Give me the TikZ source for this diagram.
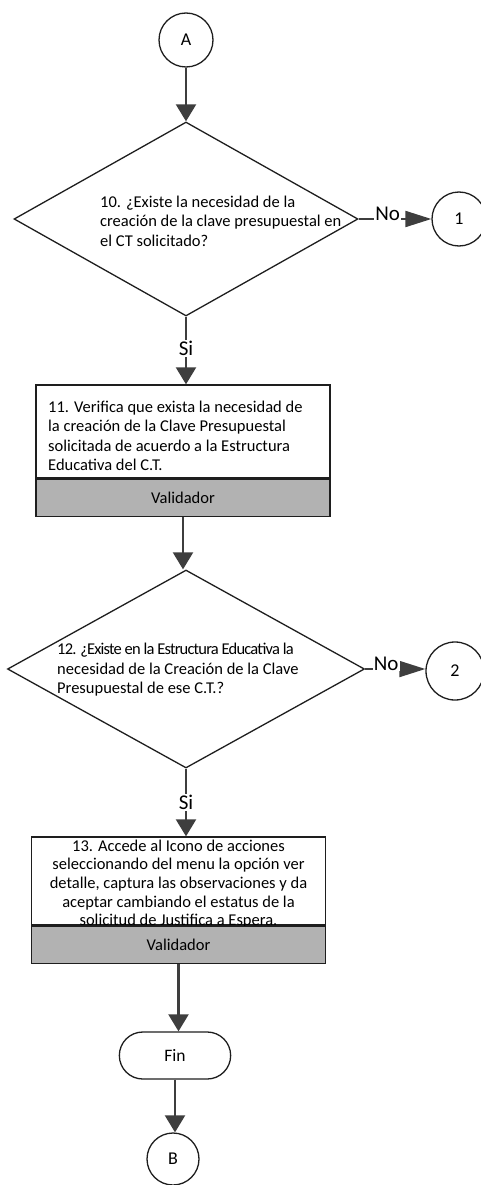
\documentclass[tikz,border=0pt]{standalone}
\usepackage{fontspec}
\setmainfont{Carlito}
\usetikzlibrary{arrows.meta,shapes.geometric,shapes.misc}
\definecolor{ink}{RGB}{30,30,30}
\definecolor{flow}{RGB}{62,62,62}
\definecolor{band}{RGB}{178,178,178}

\begin{document}
\begin{tikzpicture}[x=1pt,y=-1pt,
  font=\fontsize{16.5}{19.5}\selectfont,
  conn/.style={circle,draw=ink,line width=1.3pt,minimum size=54pt,inner sep=0pt,font=\fontsize{18}{20}\selectfont},
  decision/.style={diamond,draw=ink,line width=1.3pt,inner sep=0pt},
  qtext/.style={align=left,inner sep=0pt,anchor=west},
  taskbox/.style={rectangle,draw=ink,line width=1.3pt,minimum width=294pt},
  rolebox/.style={rectangle,draw=ink,line width=1.3pt,fill=band,minimum width=294pt,minimum height=37pt,anchor=north},
  term/.style={rounded rectangle,draw=ink,line width=1.3pt,minimum width=118pt,minimum height=47pt,font=\fontsize{17.5}{20}\selectfont},
  flowline/.style={draw=flow,line width=2.2pt,-{Triangle[length=17pt,width=20pt,fill=flow]}},
  noline/.style={draw=flow,line width=2pt,-{Triangle[length=26pt,width=16pt,fill=flow]}},
  lbl/.style={font=\fontsize{21}{24}\selectfont,fill=white,inner sep=1pt}]
\useasboundingbox (0,0) rectangle (480,1185);

% decision 10
\node[conn] (A) at (186,40) {A};
\node[decision,minimum width=344pt,minimum height=194pt] (d10) at (186,219) {};
\node[qtext] (t10) at (100,221) {10. ¿Existe la necesidad de la\\creación de la clave presupuestal en\\el CT solicitado?};
\node[conn] (c1) at (459,219) {1};

% activity 11
\node[taskbox,minimum height=93pt] (b11) at (183,431.5) {};
\node[qtext] (t11) at (48,436)
  {11. Verifica que exista la necesidad de\\la creación de la Clave Presupuestal\\solicitada de acuerdo a la Estructura\\Educativa del C.T.};
\node[rolebox] (r11) at (b11.south) {Validador};

% decision 12
\node[decision,minimum width=357pt,minimum height=198pt] (d12) at (186,669) {};
\node[qtext] (t12) at (57,670) {{\addfontfeature{LetterSpace=-5}12. ¿Existe en la Estructura Educativa la}\\necesidad de la Creación de la Clave\\Presupuestal de ese C.T.?};
\node[conn,minimum size=58pt] (c2) at (455,671) {2};

% activity 13
\node[taskbox,minimum height=88pt] (b13) at (178.5,881) {};
\node[align=center,inner sep=0pt,font=\fontsize{16.5}{18.6}\selectfont] (t13) at (178.5,884)
  {13. Accede al Icono de acciones\\seleccionando del menu la opción ver\\detalle, captura las observaciones y da\\aceptar cambiando el estatus de la\\solicitud de Justifica a Espera.};
\node[rolebox] (r13) at (b13.south) {Validador};

\node[term] (fin) at (175,1055.5) {Fin};
\node[conn,minimum size=52pt] (B) at (173,1159) {B};

\draw[flowline] (A.south) -- (A.south |- d10.north);
\draw[noline] (d10.east) -- (c1.west) node[lbl,pos=.4,anchor=base,yshift=-1pt] {No};
\draw[flowline] (d10.south) -- (d10.south |- b11.north) node[lbl,pos=.47] {Si};
\draw[flowline] (r11.south) -- (r11.south |- d12.north);
\draw[noline] (d12.east) -- (d12.east -| c2.west) node[lbl,pos=.35,anchor=base,yshift=-1pt] {No};
\draw[flowline] (d12.south) -- (d12.south |- b13.north) node[lbl,pos=.5] {Si};
\draw[flowline] (r13.south) -- (r13.south |- fin.north);
\draw[flowline] (fin.south) -- (fin.south |- B.north);
\end{tikzpicture}
\end{document}
